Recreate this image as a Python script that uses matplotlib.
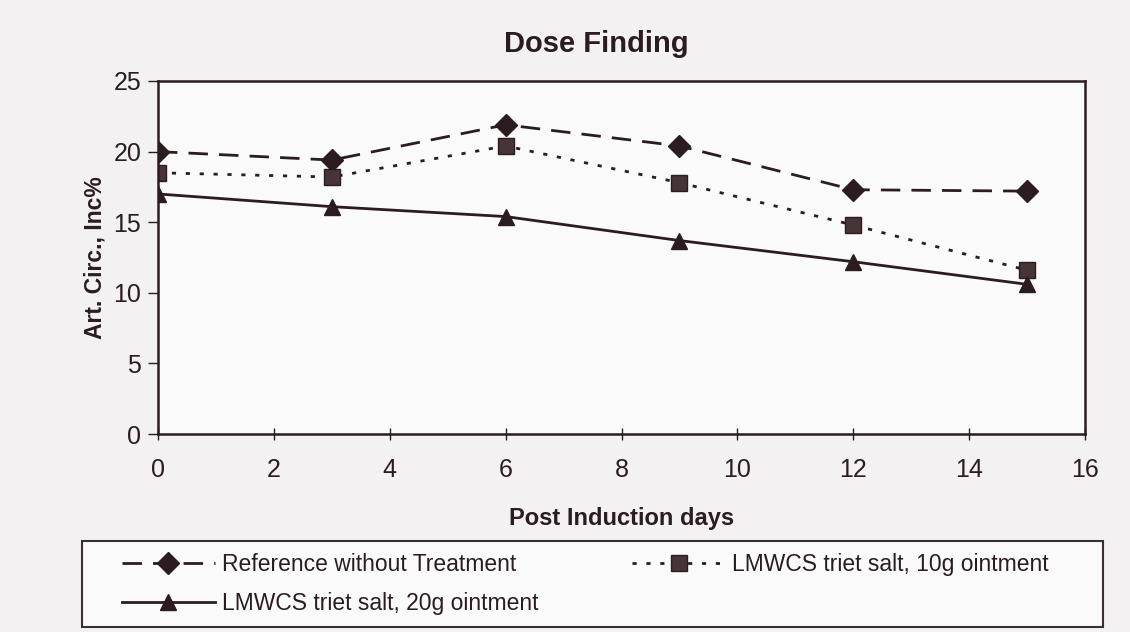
import matplotlib
matplotlib.use("Agg")
import matplotlib.pyplot as plt
from matplotlib.patches import Rectangle

days = [0, 3, 6, 9, 12, 15]
reference = [20.0, 19.4, 21.9, 20.4, 17.3, 17.2]
ointment_10g = [18.5, 18.2, 20.4, 17.8, 14.8, 11.6]
ointment_20g = [17.0, 16.1, 15.4, 13.7, 12.2, 10.6]

labels = ["Reference without Treatment",
          "LMWCS triet salt, 10g ointment",
          "LMWCS triet salt, 20g ointment"]
x_ticks = [0, 2, 4, 6, 8, 10, 12, 14, 16]
y_ticks = [0, 5, 10, 15, 20, 25]

plt.rcParams['font.family'] = ['Liberation Sans', 'DejaVu Sans']
ink = '#2b1d1f'
paper = '#f3f1f1'

W, H = 1130, 632
fig = plt.figure(figsize=(11.3, 6.32), dpi=100, facecolor=paper)
ax = fig.add_axes([158 / W, 1 - 434 / H, (1085 - 158) / W, (434 - 81) / H])
ax.set_facecolor('#fbfafa')

l1, = ax.plot(days, reference, color=ink, lw=2.0, dashes=(7, 4), marker='D',
              ms=11, mfc=ink, mec=ink, label=labels[0])
l2, = ax.plot(days, ointment_10g, color=ink, lw=2.0, dashes=(1.5, 3.5), marker='s',
              ms=11, mfc='#463436', mec=ink, label=labels[1])
l3, = ax.plot(days, ointment_20g, color=ink, lw=2.0, marker='^',
              ms=12, mfc=ink, mec=ink, label=labels[2])

ax.set_xlim(0, 16)
ax.set_ylim(0, 25)
ax.set_xticks(x_ticks)
ax.set_yticks(y_ticks)
ax.tick_params(axis='x', direction='inout', length=8, width=1, colors=ink,
               labelsize=18, pad=13)
ax.tick_params(axis='y', direction='out', length=7, width=1, colors=ink,
               labelsize=18, pad=5)
for s in ax.spines.values():
    s.set_color(ink)
    s.set_linewidth(1.8)

ax.set_title("Dose Finding", fontsize=21, fontweight='bold', color=ink, pad=21,
             x=0.4725)
ax.set_xlabel("Post Induction days", fontsize=17, fontweight='bold', color=ink,
              labelpad=18)
ax.set_ylabel("Art. Circ., Inc%", fontsize=16.5, fontweight='bold', color=ink,
              labelpad=5)

frame = Rectangle((82 / W, 1 - 627 / H), (1103 - 82) / W, (627 - 541) / H,
                  transform=fig.transFigure, facecolor='#fbfafa',
                  edgecolor='#3a3032', linewidth=1.5, zorder=0)
fig.patches.append(frame)

leg = fig.legend(handles=[l1, l3, l2], labels=[labels[0], labels[2], labels[1]],
                 ncol=2, loc='upper left', bbox_to_anchor=(122 / W, 1 - 553 / H),
                 borderaxespad=0, borderpad=0, frameon=False,
                 fontsize=16.5, handlelength=4.05, handletextpad=0.3,
                 labelspacing=0.7, columnspacing=4.1)
for t in leg.get_texts():
    t.set_color(ink)

fig.savefig("out.png", dpi=100, facecolor=paper)
